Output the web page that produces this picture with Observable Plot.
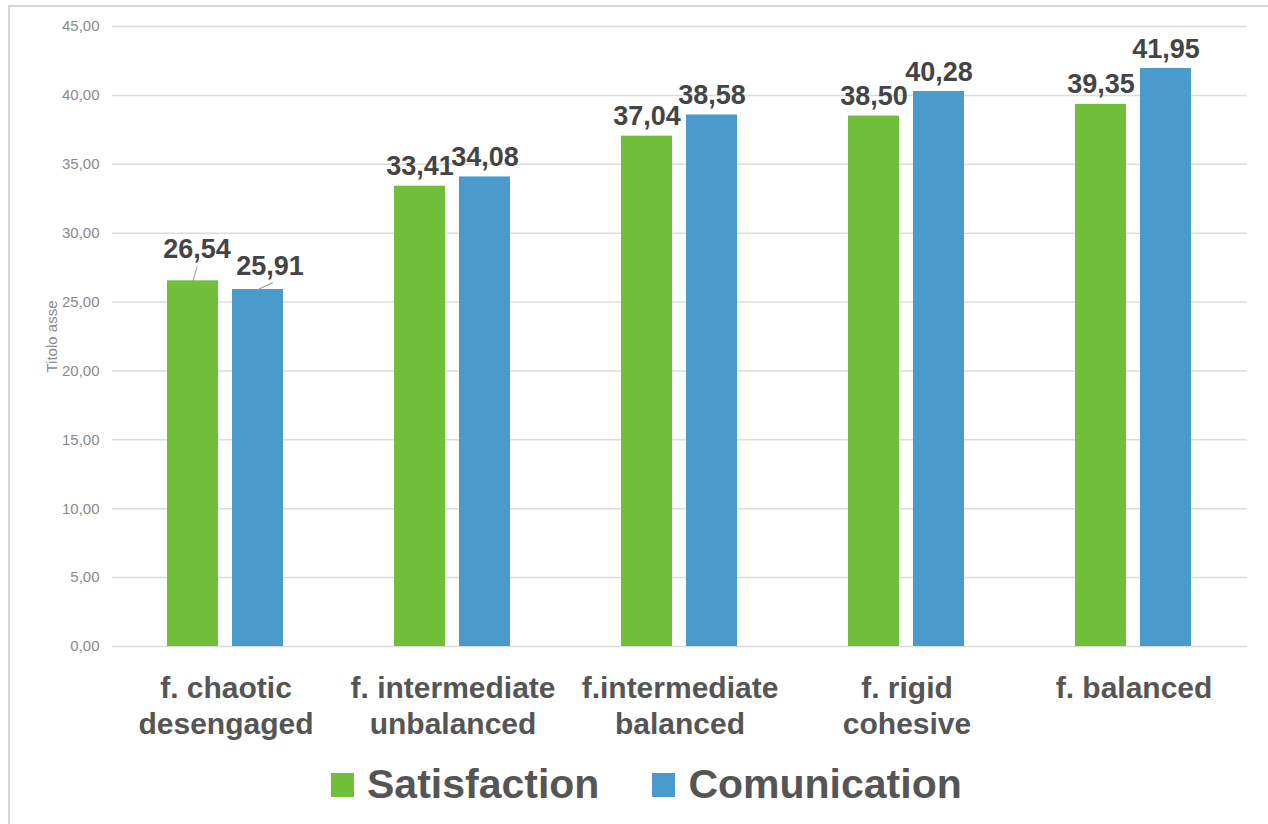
<!DOCTYPE html>
<html><head><meta charset="utf-8">
<script src="https://cdn.jsdelivr.net/npm/d3@7"></script>
<script src="https://cdn.jsdelivr.net/npm/@observablehq/plot@0.6"></script>
<style>
body{margin:0;background:#fff;font-family:"Liberation Sans",Arial,sans-serif;overflow:hidden;}
#frame{position:absolute;left:8px;top:5px;width:1300px;height:900px;border-left:2px solid #d6d6d6;border-top:2px solid #d6d6d6;}
#chart{position:absolute;left:0;top:0;}
#legend{position:absolute;left:331px;top:764px;display:flex;align-items:center;font-weight:bold;font-size:41px;color:#555;line-height:1;}
.sw{width:23px;height:24px;display:inline-block;margin-right:13px;}
.item{display:flex;align-items:center;margin-right:53px;}
</style></head><body>
<div id="frame"></div>
<div id="chart"></div>
<div id="legend"></div>
<script>
const categories = ["f. chaotic\ndesengaged", "f. intermediate\nunbalanced", "f.intermediate\nbalanced", "f. rigid\ncohesive", "f. balanced"];
const seriesNames = ["Satisfaction", "Comunication"];
const satisfaction = [26.54, 33.41, 37.04, 38.50, 39.35];
const communication = [25.91, 34.08, 38.58, 40.28, 41.95];
const yTicks = [0, 5, 10, 15, 20, 25, 30, 35, 40, 45];
const colors = ["#70bf3a", "#4a9bcb"];
const yTitle = "Titolo asse";

const data = categories.flatMap((c, i) => [
  {category: c, series: seriesNames[0], value: satisfaction[i]},
  {category: c, series: seriesNames[1], value: communication[i]}
]);
const fmt = d => d.toFixed(2).replace(".", ",");
const first = categories[0];
const lineShape = {draw(context, l) { context.moveTo(0, 0); context.lineTo(0, -l); }};
const labelStyle = {fx: "category", x: "series", y: "value", text: d => fmt(d.value), lineAnchor: "bottom", fontSize: 27, fontWeight: "bold", fill: "#444"};

const plot = Plot.plot({
  width: 1268, height: 750,
  marginLeft: 110, marginRight: 20, marginTop: 26, marginBottom: 104,
  style: {fontFamily: "'Liberation Sans', Arial, sans-serif", background: "transparent"},
  fx: {domain: categories, padding: 0, label: null, axis: null},
  x: {domain: seriesNames, paddingInner: 0.21, paddingOuter: 0.83, axis: null},
  y: {domain: [0, 45], label: null},
  color: {domain: seriesNames, range: colors},
  marks: [
    Plot.gridY(yTicks, {stroke: "#dcdcdc", strokeOpacity: 1, strokeWidth: 1.5}),
    Plot.axisY(yTicks, {tickSize: 0, tickPadding: 13, tickFormat: fmt, fontSize: 15, color: "#8a8a8a", label: yTitle, labelAnchor: "center", labelArrow: "none", labelOffset: 66}),
    Plot.axisFx({anchor: "bottom", tickSize: 0, tickPadding: 27, fontSize: 30, fontWeight: "bold", color: "#555", lineHeight: 1.17, label: null}),
    Plot.barY(data, {fx: "category", x: "series", y: "value", fill: "series"}),
    Plot.text(data.filter(d => d.category !== first), {...labelStyle, dy: -11}),
    Plot.text(data.filter(d => d.category === first && d.series === seriesNames[0]), {...labelStyle, dx: 4, dy: -23}),
    Plot.text(data.filter(d => d.category === first && d.series === seriesNames[1]), {...labelStyle, dx: 12, dy: -15}),
    Plot.vector(data.filter(d => d.category === first && d.series === seriesNames[0]), {fx: "category", x: "series", y: "value", length: 15, rotate: 16, anchor: "start", shape: lineShape, stroke: "#999", strokeWidth: 1}),
    Plot.vector(data.filter(d => d.category === first && d.series === seriesNames[1]), {fx: "category", x: "series", y: "value", length: 16, rotate: 65, anchor: "start", shape: lineShape, stroke: "#999", strokeWidth: 1})
  ]
});
document.getElementById("chart").appendChild(plot);

const legend = document.getElementById("legend");
seriesNames.forEach((s, i) => {
  const item = document.createElement("span");
  item.className = "item";
  const sw = document.createElement("span");
  sw.className = "sw";
  sw.style.background = colors[i];
  item.appendChild(sw);
  item.appendChild(document.createTextNode(s));
  legend.appendChild(item);
});
</script>
</body></html>
